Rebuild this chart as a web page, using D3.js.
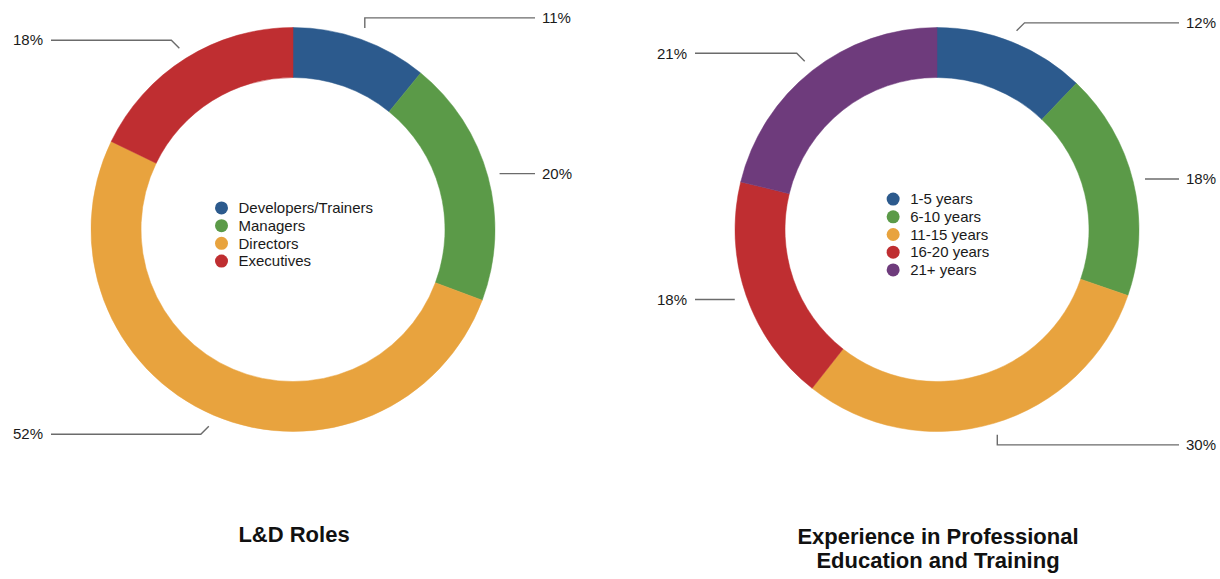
<!DOCTYPE html>
<html>
<head>
<meta charset="utf-8">
<script src="https://cdn.jsdelivr.net/npm/d3@7"></script>
<style>
  html, body { margin: 0; padding: 0; background: #fff; }
  svg { display: block; font-family: "Liberation Sans", Arial, Helvetica, sans-serif; }
</style>
</head>
<body>
<svg id="chart" width="1220" height="579"></svg>
<script>
// Survey breakdowns (percent of respondents)
const roleCategories = ["Developers/Trainers", "Managers", "Directors", "Executives"];
const roleValues = [11, 20, 52, 18];

const experienceCategories = ["1-5 years", "6-10 years", "11-15 years", "16-20 years", "21+ years"];
const experienceValues = [12, 18, 30, 18, 21];

const roleColors = ["#2c5a8d", "#5b9a48", "#e8a33e", "#bf2e31"];
const experienceColors = ["#2c5a8d", "#5b9a48", "#e8a33e", "#bf2e31", "#6e3b7c"];

const chartTitles = [["L&D Roles"], ["Experience in Professional", "Education and Training"]];

const svg = d3.select("#chart");
const outerR = 202, innerR = 152;
const cy = 229.5;

function drawDonut(cx, categories, values, colors, titleLines) {
  const g = svg.append("g").attr("transform", `translate(${cx},${cy})`);
  const color = d3.scaleOrdinal().domain(categories).range(colors);
  const pie = d3.pie().sort(null).value(d => d.value);
  const arcs = pie(categories.map((c, i) => ({ cat: c, value: values[i] })));
  const arc = d3.arc().innerRadius(innerR).outerRadius(outerR);

  g.selectAll("path.slice").data(arcs).join("path")
    .attr("class", "slice")
    .attr("d", arc)
    .attr("fill", d => color(d.data.cat))
    .attr("stroke", d => color(d.data.cat))
    .attr("stroke-width", 0.5);

  // leader lines with elbows
  const startR = outerR + 12;
  const elbowLen = 10;
  const lineReach = 242;
  g.selectAll("g.callout").data(arcs).join("g").attr("class", "callout").each(function (d) {
    const a = (d.startAngle + d.endAngle) / 2;
    const sx = startR * Math.sin(a), sy = -startR * Math.cos(a);
    const right = Math.sin(a) >= 0;
    const up = Math.cos(a) >= 0;
    const fromVert = Math.min(a % Math.PI, Math.PI - (a % Math.PI)) * 180 / Math.PI;
    let ex = sx, ey = sy;
    if (fromVert < 20.5) {
      ey = sy + (up ? -elbowLen : elbowLen);
    } else if (fromVert < 70) {
      const k = elbowLen * 0.8;
      ex = sx + (right ? k : -k);
      ey = sy + (up ? -k : k);
    }
    const endX = right ? lineReach : -lineReach;
    const pts = [[sx, sy], [ex, ey], [endX, ey]];
    d3.select(this).append("path")
      .attr("d", d3.line()(pts))
      .attr("fill", "none")
      .attr("stroke", "#6b6b6b")
      .attr("stroke-width", 1.4);
    d3.select(this).append("text")
      .attr("x", right ? endX + 7 : endX - 8)
      .attr("y", ey)
      .attr("dy", "0.35em")
      .attr("text-anchor", right ? "start" : "end")
      .attr("font-size", 15)
      .attr("fill", "#1a1a1a")
      .text(d.data.value + "%");
  });

  // legend in the donut hole
  const rowH = 17.7;
  const legend = g.append("g");
  const rows = legend.selectAll("g").data(categories).join("g")
    .attr("transform", (d, i) => `translate(0,${i * rowH})`);
  rows.append("circle").attr("r", 6.5).attr("cx", 0).attr("cy", 0).attr("fill", d => color(d));
  rows.append("text").attr("x", 17).attr("y", 0).attr("dy", "0.35em")
    .attr("font-size", 15).attr("fill", "#1a1a1a").text(d => d);
  const bb = legend.node().getBBox();
  const blockH = (categories.length - 1) * rowH;
  legend.attr("transform", `translate(${-(bb.x + bb.width / 2) + 1},${5 - blockH / 2})`);

  // title
  const title = svg.append("text")
    .attr("x", cx + 1)
    .attr("y", titleLines.length > 1 ? 544 : 542)
    .attr("text-anchor", "middle")
    .attr("font-size", 22)
    .attr("font-weight", "bold")
    .attr("fill", "#111");
  titleLines.forEach((t, i) => {
    title.append("tspan").attr("x", cx + 1).attr("dy", i === 0 ? 0 : 24).text(t);
  });
}

drawDonut(293, roleCategories, roleValues, roleColors, chartTitles[0]);
drawDonut(937, experienceCategories, experienceValues, experienceColors, chartTitles[1]);
</script>
</body>
</html>
